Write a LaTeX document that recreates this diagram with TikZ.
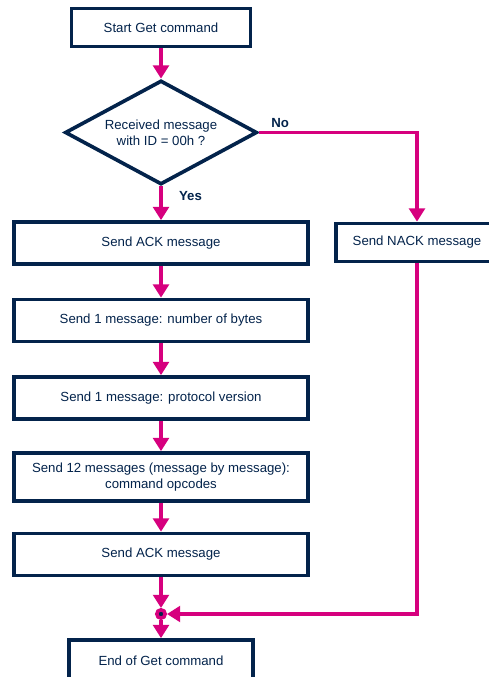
\documentclass[tikz,border=0pt]{standalone}
\usepackage{fontspec}
\setmainfont{Liberation Sans}
\usetikzlibrary{shapes.geometric, arrows.meta, positioning}
\definecolor{stblue}{RGB}{3,35,75}
\definecolor{stpink}{RGB}{214,0,126}

\begin{document}
\begin{tikzpicture}[x = 0.025cm, y = -0.025cm,
    box/.style = {draw = stblue, line width = 2.6pt, fill = white, text = stblue, align = center,
                  minimum width = 7.35cm, minimum height = 1.05cm, inner sep = 0pt,
                  font = \fontsize{9.4}{11.3}\selectfont},
    decision/.style = {box, diamond, aspect = 1.8, minimum width = 4.8cm, minimum height = 2.6cm},
    flow/.style = {draw = stpink, line width = 2.6pt, -{Triangle[width = 0.39cm, length = 0.33cm]}},
    lbl/.style = {text = stblue, font = \fontsize{9.4}{11.3}\selectfont\bfseries}]
    \useasboundingbox (0,0) rectangle (488,677);

    % main column
    \node[box, minimum width = 4.48cm, minimum height = 0.95cm] (start) at (161,27.5) {Start Get command};
    \node[decision] (check) at (161,132.5) {Received message\\with ID = 00h ?};
    \node[box] (ack) at (161,243) {Send ACK message};
    \node[box] (nbytes) at (161,320.5) {Send 1 message: number of bytes};
    \node[box] (version) at (161,398) {Send 1 message: protocol version};
    \node[box, minimum height = 1.2cm] (opcodes) at (161,477) {Send 12 messages (message by message):\\command opcodes};
    \node[box] (lastack) at (161,554.5) {Send ACK message};
    \node[circle, fill = stblue, draw = stpink, line width = 2.5pt, minimum size = 0.21cm, inner sep = 0pt] (join) at (161,614) {};
    \node[box, minimum width = 4.6cm] (finish) at (161,661) {End of Get command};

    % error branch
    \node[box, minimum width = 4.05cm, minimum height = 0.95cm] (nack) at (417,242.5) {Send NACK message};

    \draw[flow] (start) -- (check);
    \draw[flow] (check) -- node[lbl, pos = 0.3, anchor = west, xshift = 0.29cm] {Yes} (ack);
    \draw[flow] (check.east) -| node[lbl, pos = 0, anchor = south west, xshift = 0.15cm, yshift = -0.05cm] {No} (nack.north);
    \draw[flow] (ack) -- (nbytes);
    \draw[flow] (nbytes) -- (version);
    \draw[flow] (version) -- (opcodes);
    \draw[flow] (opcodes) -- (lastack);
    \draw[flow] (lastack) -- (join);
    \draw[flow] (nack.south) |- (join.east);
    \draw[flow] (join) -- (finish);
\end{tikzpicture}
\end{document}
